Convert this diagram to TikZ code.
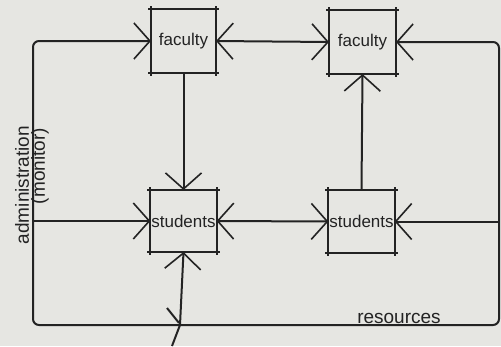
\documentclass[tikz,border=0pt]{standalone}
\usepackage{fontspec}
\setmainfont{Liberation Sans}
\usetikzlibrary{arrows.meta,calc}
\definecolor{paper}{RGB}{230,230,226}
\definecolor{ink}{RGB}{35,35,35}
\begin{document}
\begin{tikzpicture}[x=1pt,y=-1pt,
  line width=2pt, draw=ink, text=ink,
  sk/.style={-{Straight Barb[length=16pt,width=36pt,line width=1.6pt]}},
  skboth/.style={{Straight Barb[length=16pt,width=36pt,line width=1.6pt]}-{Straight Barb[length=16pt,width=36pt,line width=1.6pt]}},
  sketchbox/.style={inner sep=0pt, font=\fontsize{17}{17}\selectfont},
  lbl/.style={font=\fontsize{19}{19}\selectfont, inner sep=0pt}]
\fill[paper] (0,0) rectangle (501,346);
\useasboundingbox (0,0) rectangle (501,346);
% boxes
\node[sketchbox, minimum width=63pt, minimum height=62pt] (f1) at (183.5,41) {faculty};
\node[sketchbox, minimum width=65pt, minimum height=62pt] (f2) at (362.5,42) {faculty};
\node[sketchbox, minimum width=63pt, minimum height=60pt] (s1) at (183.5,221) {students};
\node[sketchbox, minimum width=63pt, minimum height=61pt] (s2) at (361.5,221.5) {students};
% sketch edges with overshoot
\foreach \n in {f1,f2,s1,s2} {
  \draw ($(\n.north west)+(-3,0)$) -- ($(\n.north east)+(3,0)$);
  \draw ($(\n.south west)+(-3,0)$) -- ($(\n.south east)+(3,0)$);
  \draw ($(\n.north west)+(0,-3)$) -- ($(\n.south west)+(0,3)$);
  \draw ($(\n.north east)+(0,-3)$) -- ($(\n.south east)+(0,3)$);
}
% coordinates
\coordinate (cTR) at (499,42);
\coordinate (cBR) at (499,325);
\coordinate (cBL) at (33,325);
\coordinate (cTL) at (33,41);
\coordinate (cL) at (33,221);
\coordinate (cR) at (499,221.5);
\coordinate (cB) at (172,346);
\coordinate (cBm) at (180,325);
% connectors
\draw[skboth, rounded corners=6pt] (f2.east) -- (cTR) -- (cBR) -- (cBL) -- (cTL) -- (f1.west);
\draw[skboth] (f1.east) -- (f2.west);
\draw[sk] (f1.south) -- (s1.north);
\draw[sk] (s2.north) -- (f2.south);
\draw[sk] (cL) -- (s1.west);
\draw[skboth] (s1.east) -- (s2.west);
\draw[sk] (cR) -- (s2.east);
\draw[sk] (cB) -- (cBm) -- (s1.south);
\draw (167,308) -- (179,323);
% labels
\node[lbl, rotate=90] (adm) at (22,185) {administration};
\node[lbl, rotate=90] (mon) at (40,166) {(monitor)};
\node[lbl] (res) at (399,318) {resources};
\end{tikzpicture}
\end{document}
